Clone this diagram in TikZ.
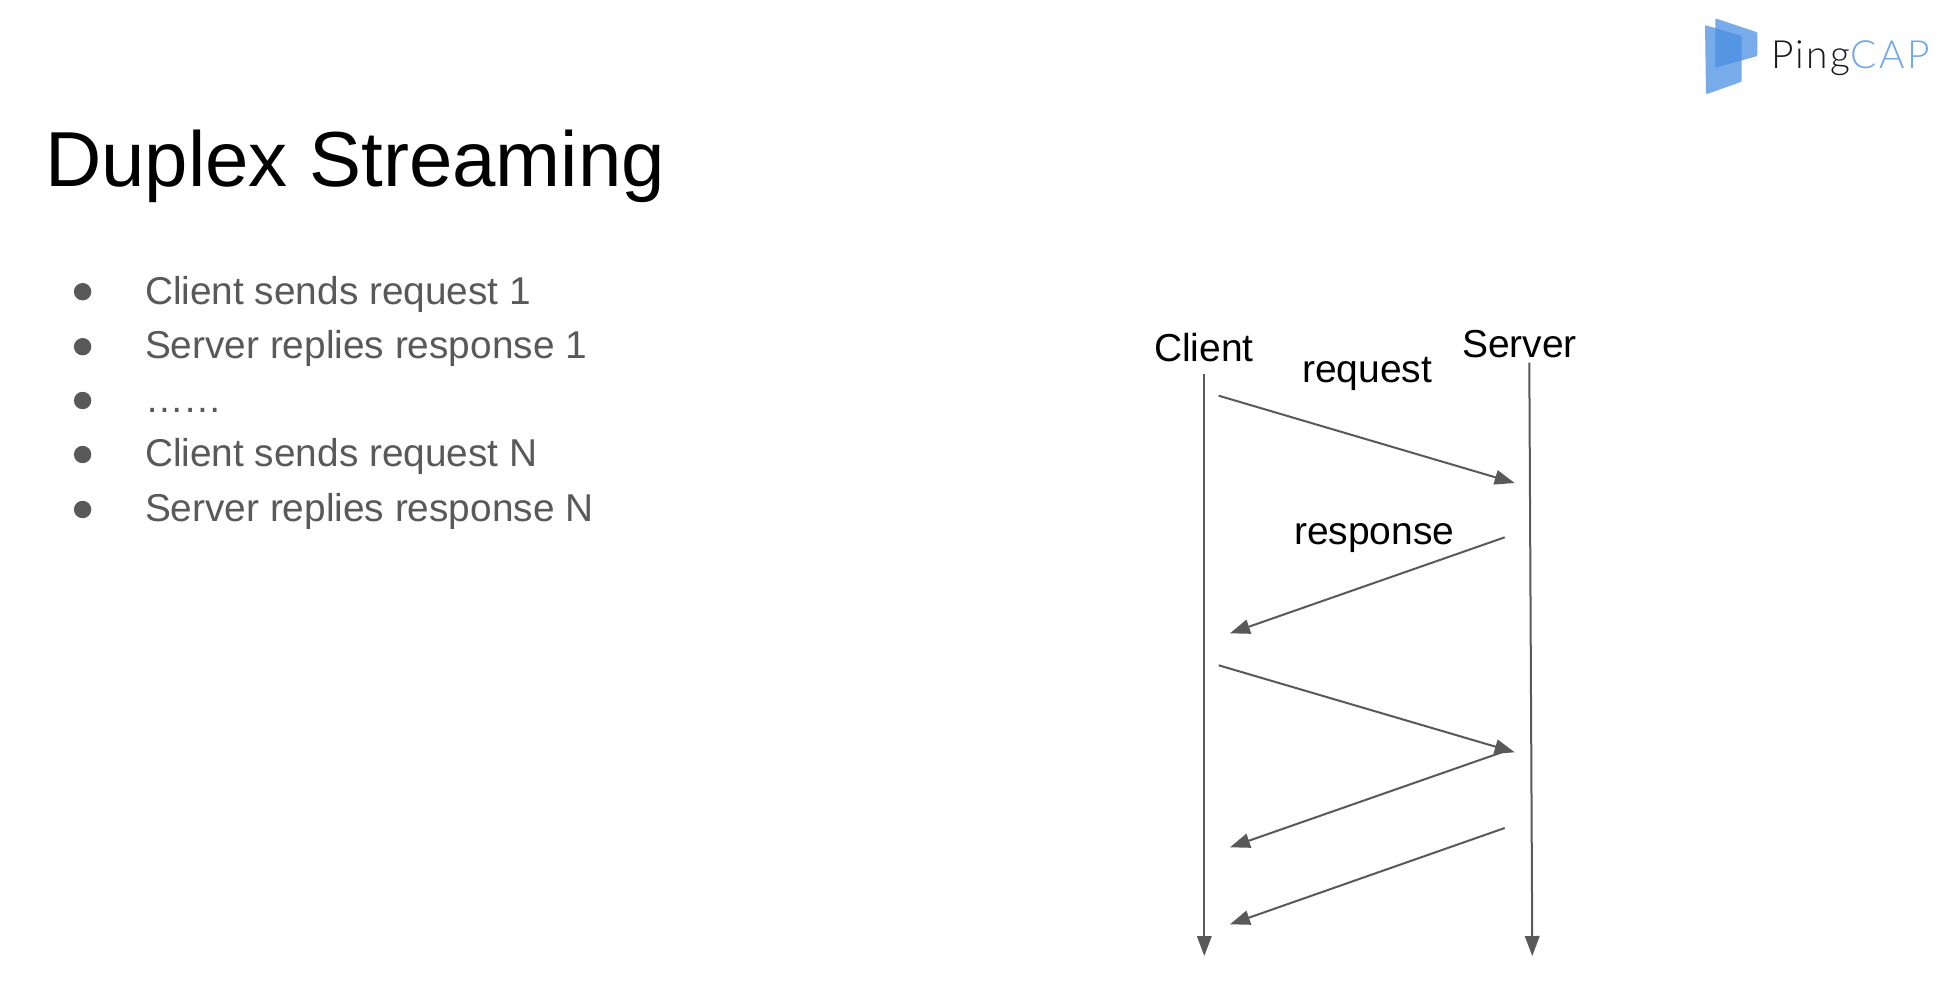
\documentclass[tikz,border=0pt]{standalone}
\usepackage{fontspec}
\setmainfont{Liberation Sans}
\newfontfamily\logofont[LetterSpace=6.3]{Lato Light}
\usetikzlibrary{arrows.meta}
\definecolor{ink}{HTML}{595959}
\definecolor{logoblue}{HTML}{4A8FE3}
\definecolor{capblue}{HTML}{6FA8E8}
\tikzset{
  x=1pt,y=-1pt,
  txt/.style={anchor=base west,inner sep=0pt,outer sep=0pt},
  titletext/.style={txt,text=black,font=\fontsize{78}{80}\selectfont},
  bullettext/.style={txt,text=ink,font=\fontsize{38.8}{44}\selectfont},
  difftext/.style={txt,text=black,font=\fontsize{39}{42}\selectfont},
  bulletdot/.style={circle,fill=ink,minimum size=17.4pt,inner sep=0pt},
  conn/.style={draw=ink,line width=2pt,-{Triangle[length=20pt,width=14.5pt]}},
  pane/.style={fill=logoblue,fill opacity=.75,draw=none,rounded corners=1pt},
}
\begin{document}
\begin{tikzpicture}
\useasboundingbox (0,0) rectangle (1948,988);
\fill[white] (0,0) rectangle (1948,988);
% title
\node[titletext] (title) at (45,186) {Duplex Streaming};
% bullets
\node[bulletdot] (b1) at (82.6,291.7) {};
\node[bulletdot] (b2) at (82.6,346.7) {};
\node[bulletdot] (b3) at (82.6,400.5) {};
\node[bulletdot] (b4) at (82.6,454.5) {};
\node[bulletdot] (b5) at (82.6,509.5) {};
\node[bullettext] (t1) at (145,304.5) {Client sends request 1};
\node[bullettext] (t2) at (145,358.5) {Server replies response 1};
\node[bullettext] (t3) at (145,412.5) {……};
\node[bullettext] (t4) at (145,466) {Client sends request N};
\node[bullettext] (t5) at (145,521) {Server replies response N};
% diagram labels
\node[difftext] (client) at (1154,361.5) {Client};
\node[difftext] (server) at (1462,357.5) {Server};
\node[difftext] (request) at (1302,382) {request};
\node[difftext] (response) at (1294,544) {response};
% lifelines
\coordinate (ct) at (1204.3,374.3);
\coordinate (cb) at (1204.3,956);
\coordinate (st) at (1529.3,362.7);
\coordinate (sb) at (1532.3,956);
\draw[conn] (ct) -- (cb);
\draw[conn] (st) -- (sb);
% messages
\coordinate (a1s) at (1218.7,395.7);
\coordinate (a1e) at (1514.7,483);
\coordinate (a2s) at (1504.7,537.3);
\coordinate (a2e) at (1230,633.3);
\coordinate (a3s) at (1218.7,665.3);
\coordinate (a3e) at (1514.7,752.3);
\coordinate (a4s) at (1504.7,751.3);
\coordinate (a4e) at (1230,847.3);
\coordinate (a5s) at (1504.7,828);
\coordinate (a5e) at (1230,924.3);
\draw[conn] (a1s) -- (a1e);
\draw[conn] (a2s) -- (a2e);
\draw[conn] (a3s) -- (a3e);
\draw[conn] (a4s) -- (a4e);
\draw[conn] (a5s) -- (a5e);
% logo
\fill[pane] (1705,25) -- (1741.7,36) -- (1741.7,81.7) -- (1706,94.3) -- cycle;
\fill[pane] (1715.3,18.3) -- (1757.3,32.3) -- (1757.3,56) -- (1715.3,67.7) -- cycle;
\node[txt,font=\logofont\fontsize{38.9}{42}\selectfont,text=black!90] (ping) at (1771,68) {Ping\textcolor{capblue}{CAP}};
\end{tikzpicture}
\end{document}
